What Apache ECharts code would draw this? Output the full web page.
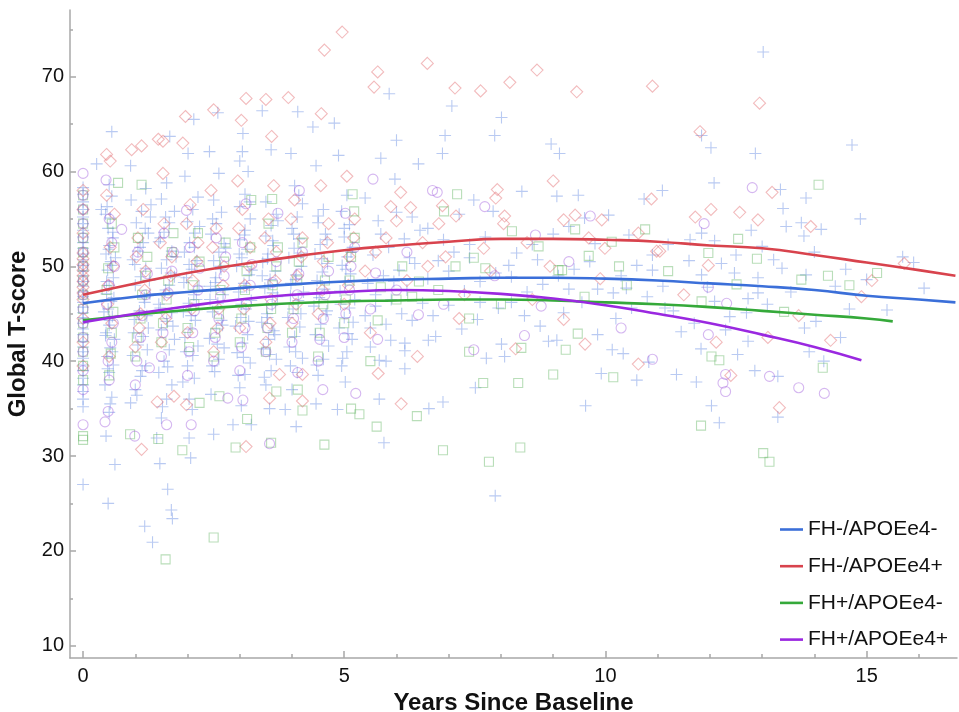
<!DOCTYPE html>
<html>
<head>
<meta charset="utf-8">
<script src="https://cdn.jsdelivr.net/npm/echarts@6/dist/echarts.min.js"></script>
<style>html,body{margin:0;padding:0;background:#fff}#c{width:959px;height:712px}</style>
</head>
<body>
<div id="c"></div>
<script>
// ---------- DATA ----------
const seriesNames = ['FH-/APOEe4-', 'FH-/APOEe4+', 'FH+/APOEe4-', 'FH+/APOEe4+'];
const xMajorTicks = [0, 5, 10, 15];
const xMinorTicks = [0,1,2,3,4,5,6,7,8,9,10,11,12,13,14,15,16];
const yMajorTicks = [10, 20, 30, 40, 50, 60, 70];
const yMinorTicks = [10,15,20,25,30,35,40,45,50,55,60,65,70,75];

// fitted trend curves
const curveBlue = [[0,46.1],[1,46.8],[2,47.3],[3,47.7],[4,48.1],[5,48.4],[6,48.6],[7,48.7],[8,48.8],[9,48.8],[10,48.7],[11,48.5],[12,48.2],[13,47.9],[14,47.5],[15,46.9],[16,46.5],[16.7,46.2]];
const curveRed = [[0,47.0],[1,48.2],[2,49.3],[3,50.2],[4,51.0],[5,51.7],[6,52.2],[7,52.6],[8,52.9],[9,52.9],[10,52.8],[11,52.6],[12,52.2],[13,51.9],[14,51.2],[15,50.4],[16,49.6],[16.7,49.0]];
const curveGreen = [[0,44.3],[1,44.9],[2,45.4],[3,45.8],[4,46.1],[5,46.3],[6,46.4],[7,46.5],[8,46.5],[9,46.4],[10,46.2],[11,46.0],[12,45.7],[13,45.3],[14,44.9],[15,44.5],[15.5,44.2]];
const curvePurple = [[0,44.1],[1,45.0],[2,45.8],[3,46.5],[4,47.0],[5,47.3],[6,47.5],[7,47.4],[8,47.1],[9,46.6],[10,45.9],[11,45.0],[12,44.0],[13,42.8],[14,41.5],[14.9,40.1]];

// individual observations
const ptsBlue = [
[0,35.2],[0,36],[0,36.8],[0,37.5],[0,38.2],[0,39],[0,39.6],[0,40.3],[0,41],[0,41.5],[0,42.1],[0,42.8],[0,43.4],[0,44],[0,44.6],[0,45.1],[0,45.7],[0,46.2],[0,46.8],[0,47.3],[0,47.9],[0,48.4],[0,49],[0,49.5],[0,50.1],[0,50.7],[0,51.3],[0,51.9],[0,52.5],[0,53.1],[0,53.8],[0,54.5],[0,55.2],[0,56],[0,56.8],[0,57.6],[0,58.3],[0,27.0],
[0.61,29.1],[0.48,25.0],[0.44,32.1],[0.5,34.6],[0.55,36.2],[0.42,37.5],[0.5,38.8],[0.58,39.6],[0.46,40.5],[0.52,41.4],[0.6,42.3],[0.44,43],[0.5,43.8],[0.56,44.7],[0.48,45.5],[0.54,46.3],[0.45,47.1],[0.5,48],[0.58,48.8],[0.47,49.6],[0.53,50.5],[0.44,51.3],[0.5,52.2],[0.57,53],[0.48,54],[0.52,55.1],[0.46,56.3],[0.55,57.4],[0.5,58.6],[0.26,60.8],[0.55,64.2],[0.35,56],[0.62,50.9],[0.4,45.2],
[0.52,35.5],[0.47,39.2],[0.56,41],[0.43,42.7],[0.51,44.3],[0.59,46.7],[0.45,48.4],[0.54,50.1],[0.49,51.8],[0.57,53.6],[0.43,55.5],
[0.91,35.6],[1.0,37],[1.1,38.4],[1.2,39.5],[0.95,40.6],[1.05,41.7],[1.15,42.6],[1.25,43.5],[0.98,44.4],[1.08,45.3],[1.18,46.2],[1.28,47.1],[1.0,48],[1.1,48.9],[1.2,49.8],[0.95,50.7],[1.05,51.6],[1.15,52.5],[1.25,53.5],[1.02,54.6],[1.12,55.8],[0.92,57],[1.2,58.2],[0.91,60.6],[1.18,22.6],[1.33,20.9],[1.3,56.5],[1.22,44.8],
[1.03,36.4],[1.13,39],[1.23,41.2],[0.97,43],[1.07,44.9],[1.17,46.7],[1.27,48.5],[0.99,50.2],[1.09,52],[1.19,54],[1.29,55.2],
[1.47,29.2],[1.62,26.5],[1.69,24.3],[1.71,23.4],[1.41,31.9],[1.5,34],[1.6,36],[1.7,37.5],[1.45,38.8],[1.55,40],[1.65,41.2],[1.75,42.3],[1.5,43.3],[1.6,44.2],[1.7,45.1],[1.45,46],[1.55,47],[1.65,48],[1.75,48.9],[1.5,49.8],[1.6,50.7],[1.7,51.6],[1.45,52.6],[1.55,53.6],[1.65,54.6],[1.75,55.8],[1.5,57.1],[1.66,63.7],[1.6,58.8],
[1.52,35.2],[1.62,39.4],[1.72,43.7],[1.48,45.6],[1.58,47.5],[1.68,49.3],[1.78,51],[1.48,53],[1.58,55.2],
[2.06,29.8],[2.03,31.9],[2.09,34.9],[1.91,37.8],[2.0,39.5],[2.1,40.6],[2.2,41.6],[1.95,42.5],[2.05,43.4],[2.15,44.3],[1.92,45.2],[2.02,46.1],[2.12,47],[2.22,47.9],[1.98,48.8],[2.08,49.7],[2.18,50.6],[1.94,51.5],[2.04,52.5],[2.14,53.5],[2.0,54.7],[2.1,56],[2.2,57.3],[2.01,61.9],[2.12,65.5],[1.95,59.5],
[2.03,36],[2.13,38.2],[1.97,41],[2.07,44.8],[2.17,46.5],[1.93,48.3],[2.03,50.2],[2.13,52],[2.23,54.2],
[2.5,32.3],[2.52,38.9],[2.45,36.5],[2.6,40.2],[2.7,41.4],[2.42,42.4],[2.55,43.4],[2.65,44.3],[2.48,45.2],[2.58,46.1],[2.68,47],[2.44,47.9],[2.54,48.8],[2.64,49.7],[2.5,50.6],[2.6,51.5],[2.7,52.4],[2.45,53.4],[2.55,54.5],[2.65,55.7],[2.5,57],[2.42,62.1],[2.58,66.2],[2.6,59.8],[2.87,33.3],
[2.47,39.5],[2.57,41.8],[2.67,43.8],[2.43,46.5],[2.53,48.3],[2.63,50],[2.73,51.9],[2.48,55],
[3.22,33.3],[3.03,35.3],[3.0,37.2],[3.1,38.6],[3.2,39.8],[2.95,40.9],[3.05,41.9],[3.15,42.8],[2.92,43.7],[3.02,44.6],[3.12,45.5],[3.22,46.4],[2.98,47.3],[3.08,48.2],[3.18,49.1],[2.94,50],[3.04,50.9],[3.14,51.8],[3.0,52.8],[3.1,53.8],[3.2,55],[3.0,56.3],[3.1,57.6],[3.05,62.1],[3.06,64.0],[3.0,61.1],[3.16,60.0],
[2.97,38.5],[3.07,40.4],[3.17,44.2],[3.03,46],[3.13,47.8],[3.23,49.6],[2.99,51.3],[3.09,53.3],[3.19,56.8],
[3.57,35.0],[3.5,37.5],[3.6,39.0],[3.7,40.2],[3.45,41.3],[3.55,42.3],[3.65,43.2],[3.42,44.1],[3.52,45.0],[3.62,45.9],[3.72,46.8],[3.48,47.7],[3.58,48.6],[3.68,49.5],[3.44,50.4],[3.54,51.3],[3.64,52.2],[3.5,53.2],[3.6,54.3],[3.7,55.5],[3.5,56.8],[3.6,62.3],[3.43,66.4],[3.87,34.9],
[3.47,38.3],[3.57,40.7],[3.67,42.8],[3.53,44.6],[3.63,47.2],[3.43,49],[3.53,50.8],[3.63,52.7],[3.73,54.8],
[4.08,33.1],[4.0,37],[4.1,38.8],[4.2,40.3],[3.95,41.5],[4.05,42.6],[4.15,43.6],[3.92,44.6],[4.02,45.5],[4.12,46.4],[4.22,47.3],[3.98,48.2],[4.08,49.1],[4.18,50],[3.94,50.9],[4.04,51.9],[4.14,52.9],[4.0,54],[4.1,55.2],[4.2,56.6],[3.98,61.9],[4.11,66.3],[4.05,58.5],
[3.97,39.5],[4.07,41],[4.17,45],[3.97,46.9],[4.07,48.6],[4.17,51.4],[4.03,53.4],[4.13,57.5],
[4.46,35.5],[4.5,38.5],[4.6,40.2],[4.7,41.6],[4.45,42.8],[4.55,43.9],[4.65,44.9],[4.42,45.8],[4.52,46.7],[4.62,47.6],[4.48,48.5],[4.58,49.4],[4.68,50.3],[4.44,51.3],[4.54,52.3],[4.64,53.4],[4.5,54.6],[4.6,56],[4.46,60.6],[4.4,64.7],
[4.47,39.6],[4.57,42.2],[4.67,45.3],[4.47,47.1],[4.57,50.8],[4.67,52.8],[4.5,55.3],
[4.87,34.9],[5.02,37.8],[4.95,39.5],[5.05,41],[5.15,42.3],[4.9,43.5],[5.0,44.6],[5.1,45.6],[5.2,46.5],[4.92,47.4],[5.02,48.3],[5.12,49.2],[4.96,50.1],[5.06,51],[5.16,52],[5.0,53.1],[5.1,54.4],[4.95,55.8],[5.05,57.5],[4.89,61.7],[4.81,65.1],
[4.97,40.3],[5.07,42.9],[5.17,44.1],[4.93,46],[5.03,49.7],[5.13,51.5],[5.0,54],
[5.67,36.0],[5.76,31.4],[5.67,40.1],[5.8,40.0],[5.89,42.2],[6.16,41.1],[6.16,41.9],[6.16,39.2],[6.62,35.0],[6.89,35.7],[6.61,42.2],[5.5,43.5],[5.4,44.8],[5.6,45.8],[5.9,46.5],[6.2,47.5],[5.45,48.2],[5.75,49.0],[6.05,49.6],[6.35,50.3],[5.55,51.2],[5.85,52],[6.15,52.9],[6.45,53.8],[5.65,54.8],[6.0,55.7],[5.7,61.4],[5.86,68.2],[5.97,59.2],[6.0,63.3],[6.42,60.8],[5.4,57.2],[6.3,44.3],[6.5,46.1],
[5.5,41.5],[5.8,43.9],[6.1,45],[5.6,47],[5.95,48.4],[6.25,50.9],[5.7,53.4],[6.3,55.2],[6.6,48.7],[7.0,49.5],[7.4,50.9],[6.9,52.8],[7.6,46.2],
[6.88,61.9],[6.93,63.8],[7.06,66.9],[7.48,57.0],[7.51,37.2],[7.72,40.3],[7.89,25.8],[7.88,63.8],[8.01,65.7],[6.7,44.8],[7.0,45.9],[7.3,47.4],[7.6,48.4],[7.9,49.3],[6.8,50.6],[7.1,51.5],[7.4,52.3],[7.7,53.1],[6.6,54.0],[7.2,55.5],[7.85,55.8],[6.75,42.6],[7.25,43.4],[7.55,44.4],[7.95,45.6],[8.07,40.5],[8.01,41.8],
[8.4,57.9],[8.96,62.9],[9.12,61.9],[9.07,57.4],[9.48,57.5],[8.91,42.1],[9.07,42.2],[9.62,35.3],[9.92,38.7],[8.2,46.2],[8.5,47.3],[8.8,48.1],[9.1,49.0],[9.4,49.7],[9.7,50.5],[8.3,51.4],[8.6,52.3],[9.0,53.4],[9.3,54.2],[9.6,55.1],[8.45,44.8],[8.75,43.7],[9.2,45.1],[9.55,46.2],[9.85,47.6],[10.06,55.4],[8.15,50.1],[9.85,42.8],
[8.2,48.9],[8.7,50.7],[9.3,47.6],[9.8,52.4],
[10.6,38.0],[10.13,41.2],[10.34,40.8],[10.83,39.9],[10.74,57.1],[11.09,58.0],[10.2,44.5],[10.5,45.6],[10.8,46.8],[11.1,47.9],[10.3,49.0],[10.6,50.1],[10.9,51.2],[11.2,52.3],[10.45,53.3],[11.3,45.3],[11.14,45.6],[11.36,38.6],[11.45,43.1],[10.15,47.2],
[10.4,47.7],[10.9,49.6],[11.6,50.6],
[11.74,37.8],[12.03,35.3],[12.18,33.5],[12.86,39.0],[12.53,40.7],[11.83,41.3],[12.73,42.1],[11.84,63.8],[12.02,62.5],[12.87,61.9],[12.08,58.8],[12.79,53.8],[11.84,53.5],[11.62,52.8],[12.09,52.7],[12.22,50.3],[11.84,49.1],[12.47,49.3],[12.92,48.8],[12.92,47.2],[12.73,46.6],[12.09,46.3],[12.38,44.7],[12.7,45.1],[11.7,44.0],[12.3,43.3],[11.95,47.8],
[12.5,51.2],[13.0,52.1],
[13.02,72.6],[14.72,62.8],[13.35,58.1],[13.84,57.2],[13.4,56.1],[14.88,55.0],[13.46,54.2],[13.75,54.6],[14.13,53.9],[13.8,53.2],[13.22,50.7],[13.38,49.8],[13.84,49.1],[15.69,51.0],[14.67,45.5],[15.39,45.4],[14.03,44.2],[13.81,43.5],[13.3,38.4],[13.3,34.1],[14.18,40.0],[13.1,46.0],[13.55,47.3],[14.4,47.9],[15.0,48.6],[14.5,42.5],[13.9,41.0],
[14.0,51.5],[14.6,49.7],[15.9,50.4],[16.1,47.7]
];
const ptsRed = [
[0,46.5],[0,47.2],[0,47.8],[0,48.4],[0,49],[0,49.6],[0,50.2],[0,50.8],[0,51.4],[0,42],[0,44.5],[0,53.5],[0,56],[0,39.5],[0,58],
[4.96,74.7],[4.62,72.8],[3.12,67.7],[3.5,67.6],[3.93,67.8],[2.5,66.5],[1.96,65.8],[3.03,65.4],[4.56,66.1],[3.61,63.7],[1.91,63.0],[1.44,63.4],[1.53,63.2],[1.12,62.7],[0.93,62.3],[0.45,61.8],[0.52,61.1],[2.96,59.0],[1.53,59.8],
[5.64,70.5],[5.57,68.9],[6.59,71.4],[8.69,70.7],[7.12,68.8],[7.61,68.5],[8.17,69.4],[9.45,68.4],[10.9,69.0],[9.0,59.0],[7.93,58.1],[7.9,57.2],[6.08,57.8],[5.89,56.3],[6.27,56.2],[10.88,57.1],[9.42,55.4],[9.93,54.9],[9.2,54.9],[8.07,55.3],[8.05,54.5],[6.81,54.5],[6.88,56.4],[7.14,55.3],[9.99,51.9],[10.98,51.6],[8.94,50.0],[7.67,51.9],[6.94,51.0],[10.63,53.5],[9.68,53.0],[9.2,44.4],[5.65,38.7],[6.09,35.5],[9.61,41.8],[10.63,39.7],[8.28,41.3],
[12.95,67.2],[11.81,64.2],[13.19,57.8],[12.02,56.0],[11.72,55.2],[12.57,55.7],[12.92,54.9],[13.93,54.2],[11.97,50.1],[15.72,50.3],[11.04,51.6],[13.33,35.1],[14.31,42.2],[12.12,42.0],[13.11,42.5],
[1.12,30.7],[3.12,31.0],[1.98,35.4],[1.74,36.3],[1.42,35.7],[3.57,36.1],[4.2,35.8],[3.76,38.6],[4.2,38.6],
[0.5,40.5],[0.55,44],[0.48,48],[0.52,52],[0.6,55.5],[0.45,57.5],[1.0,41.5],[1.1,45],[1.2,49.5],[1.05,53],[1.15,56],[1.5,42],[1.6,47],[1.7,51],[1.55,54.5],[2.0,43],[2.1,48.5],[2.2,52.5],[2.05,56.5],[2.5,41],[2.6,45.5],[2.7,50],[2.55,54],[2.45,58],[3.0,43.5],[3.1,48],[3.2,52],[3.05,56],[3.5,42],[3.6,46.5],[3.7,51.5],[3.55,55],[3.65,58.5],[4.0,44],[4.1,49],[4.2,53],[4.05,57],[4.5,45],[4.6,50.5],[4.7,54.5],[4.55,58.5],[5.0,46],[5.1,51],[5.2,55],[5.05,59.5],[5.4,49.5],[5.8,53],[6.2,48.5],[6.6,50],[7.3,47],[7.8,49.5],[8.5,52.5],[5.5,43],[6.4,40.5],[7.2,44.5],[8.6,46.5],[9.9,48.7],[11.5,47],[12.4,38.5],[13.7,44.8],[14.9,46.8],[15.1,48.5],
[0.47,46],[0.58,50],[1.08,43.5],[1.18,47.5],[1.02,51],[1.58,44.5],[1.68,49],[1.48,52.5],[2.08,45.5],[2.18,50.5],[1.98,54.5],[2.58,43.5],[2.68,48],[2.48,52],[3.08,45.5],[3.18,50],[2.98,54],[3.58,44],[3.68,48.5],[3.48,53],[4.08,46],[4.18,51],[3.98,55],[4.58,47.5],[4.68,52.5],[5.08,48],[5.18,53],[5.6,51.5],[6.0,54.8],[6.5,52.5]
];
const ptsGreen = [
[0,31.7],[0,32.1],[0,38],[0,39.5],[0,41],[0,42.5],[0,44],[0,45.5],[0,47],[0,48.5],[0,50],[0,51.5],[0,53],[0,54.5],[0,56],[0,57.5],
[1.58,19.1],[2.5,21.4],[0.9,32.3],[1.44,31.8],[1.9,30.6],[2.92,30.9],[3.6,31.4],[4.62,31.2],[3.14,33.9],[2.23,35.6],[2.61,36.3],[3.7,36.8],[4.11,37.0],[5.13,35.0],[5.29,34.4],[4.2,34.8],
[5.62,33.1],[6.39,34.2],[6.89,30.6],[7.77,29.4],[8.37,30.9],[7.66,37.7],[8.33,37.7],[9.0,38.6],[10.15,38.3],[9.24,41.2],[7.39,41.0],[8.39,41.4],[9.47,42.9],
[7.16,57.6],[6.91,55.8],[8.21,53.7],[9.42,53.9],[10.76,53.9],[10.12,52.6],[8.72,52.1],[9.68,51.1],[10.26,50.0],[10.41,48.0],[9.1,49.6],[9.17,49.6],[7.7,49.8],[7.48,50.9],[7.13,50.0],[6.11,50.0],[6.43,48.4],[5.64,44.3],[7.39,44.5],
[14.08,58.6],[12.54,52.9],[11.97,51.4],[14.26,49.0],[13.75,48.6],[14.67,48.0],[12.51,48.1],[11.84,46.3],[13.42,45.2],[11.83,33.2],[13.02,30.3],[13.14,29.4],[14.16,39.3],[12.03,40.5],[12.18,40.1],
[0.67,58.8],[1.12,58.6],[3.22,57.0],[3.62,57.1],[5.16,57.6],[5.19,55.8],
[0.5,38.5],[0.55,43],[0.45,47.5],[0.6,52],[1.0,40.5],[1.1,44.5],[1.2,49],[1.05,53],[1.5,42],[1.6,46.5],[1.7,51.5],[2.0,43.5],[2.1,48],[2.2,53.5],[2.5,40.5],[2.6,45],[2.7,50.5],[3.0,42],[3.1,47.5],[3.2,52],[3.5,41],[3.6,45.5],[3.7,50],[3.55,54.5],[4.0,43],[4.1,48.5],[4.2,52.5],[4.5,40.5],[4.6,46],[4.7,51],[5.0,44],[5.1,48.5],[5.2,53],[5.5,40],[6.0,46.5],[6.8,47.5],[8.0,46],[9.6,46.8],[11.2,49.5],[12.9,50.8],[15.2,49.3],
[0.53,40.8],[0.58,45.2],[0.48,49.8],[0.55,54.5],[1.03,42.5],[1.13,47],[1.23,51],[1.53,44],[1.63,48.5],[1.73,53.5],[2.03,41.5],[2.13,46],[2.23,50.5],[2.53,43],[2.63,47.5],[2.73,52.5],[3.03,44.5],[3.13,49.5],[3.53,43.5],[3.63,48],[3.73,52],[4.03,45.5],[4.13,50.5],[4.53,43],[4.63,48.5],[5.03,46.5],[5.13,51],[5.7,47.8],[6.3,46.8]
];
const ptsPurple = [
[0,33.3],[0,37],[0,39],[0,41],[0,42.5],[0,44],[0,45.5],[0,47],[0,48.5],[0,50],[0,51.5],[0,53],[0,54.5],[0,56],[0,57.5],[0,59.8],
[0.42,33.6],[0.48,34.7],[0.99,32.1],[1.6,33.3],[2.07,33.3],[3.57,31.3],[5.22,36.6],[4.59,37.0],[2.77,36.1],[3.06,35.9],[4.11,38.8],[1.27,39.3],
[5.55,59.2],[6.69,58.0],[6.78,57.8],[7.69,56.3],[9.71,55.3],[8.66,53.3],[7.88,49.0],[6.42,44.9],[8.77,45.8],[8.45,42.7],[7.48,41.2],[5.64,42.3],
[12.81,58.3],[11.89,54.5],[11.97,47.8],[12.32,46.1],[12.3,38.6],[12.3,36.8],[13.14,38.4],[13.7,37.2],[14.19,36.6],[11.97,42.8],[12.25,37.7],
[0.44,59.1],[0.74,53.9],[1.98,55.9],[3.12,56.6],[3.73,55.6],[4.14,58.0],[5.02,55.6],
[0.5,38],[0.55,42],[0.45,46],[0.6,50],[0.5,55],[1.0,37.5],[1.1,42.5],[1.2,47],[1.05,51.5],[1.5,40.5],[1.6,45],[1.7,49.5],[1.55,53.5],[2.0,38.5],[2.1,43],[2.2,47.5],[2.05,52],[2.5,40],[2.6,44.5],[2.7,49],[2.55,53],[3.0,39],[3.1,43.5],[3.2,48],[3.05,52.5],[3.5,41],[3.6,46],[3.7,50.5],[4.0,42],[4.1,47],[4.2,51.5],[4.5,40],[4.6,44.5],[4.7,49.5],[5.0,42.5],[5.1,47.5],[5.2,52],[5.6,49.3],[6.2,51.5],[6.9,46],[10.3,43.5],[10.9,40.2],[9.3,50.5],
[0.48,40],[0.58,44],[0.5,48],[0.55,52.5],[1.03,40],[1.13,44.8],[1.23,49.2],[1.53,43],[1.63,47.2],[1.73,51.5],[2.03,41],[2.13,45.3],[2.23,49.8],[2.53,42.5],[2.63,46.8],[2.73,51],[3.03,41.5],[3.13,46],[3.23,50.2],[3.53,43.5],[3.63,48.3],[4.03,44.5],[4.13,49.2],[4.53,42.3],[4.63,47],[5.03,45],[5.13,50],[5.5,45.5],[6.0,47.5]
];

// ---------- CHART ----------
const FONT = "'Liberation Sans', Arial, Helvetica, sans-serif";
const lineColors = ['#3b6fd9', '#d8434d', '#35a93a', '#9a28e0'];
const ptColors = ['rgba(95,135,225,0.55)', 'rgba(226,100,105,0.55)', 'rgba(95,180,95,0.55)', 'rgba(160,90,220,0.55)'];
const symbols = ['path://M0,5L10,5M5,0L5,10', 'diamond', 'rect', 'circle'];
const symSizes = [12, 12, 9, 10];
const ptsAll = [ptsBlue, ptsRed, ptsGreen, ptsPurple];
const curvesAll = [curveBlue, curveRed, curveGreen, curvePurple];

const X_MIN = -0.25, X_MAX = 16.73, Y_MIN = 8.7, Y_MAX = 77.03;
const axisLineStyle = { color: '#a8a8a8', width: 1.5 };

const chart = echarts.init(document.getElementById('c'), null, { renderer: 'canvas' });

const series = [];
ptsAll.forEach((pts, i) => {
  series.push({
    name: 'pts' + i, type: 'scatter', data: pts,
    symbol: symbols[i], symbolSize: symSizes[i],
    itemStyle: { color: 'transparent', borderColor: ptColors[i], borderWidth: 1.1 },
    emphasis: { disabled: true }, silent: true, z: 2
  });
});
curvesAll.forEach((c, i) => {
  series.push({
    name: seriesNames[i], type: 'line', data: c, smooth: 0.5,
    symbol: 'none', showSymbol: false,
    lineStyle: { color: lineColors[i], width: 2.6 },
    itemStyle: { color: lineColors[i] },
    z: 5, silent: true
  });
});

chart.setOption({
  animation: false,
  backgroundColor: '#fff',
  grid: { left: 70, right: 2, top: 10, bottom: 54, containLabel: false, outerBoundsMode: 'none' },
  legend: {
    data: seriesNames.map(n => ({ name: n, icon: 'rect' })),
    orient: 'vertical', left: 775, top: 514,
    itemWidth: 23, itemHeight: 2.6, itemGap: 15.7,
    textStyle: { fontFamily: FONT, fontSize: 21, color: '#111' }
  },
  xAxis: [{
    type: 'value', min: X_MIN, max: X_MAX,
    name: 'Years Since Baseline', nameLocation: 'middle', nameGap: 29,
    nameTextStyle: { fontFamily: FONT, fontSize: 24, fontWeight: 'bold', color: '#111' },
    axisLine: { show: true, onZero: false, lineStyle: axisLineStyle },
    axisTick: { show: true, inside: true, length: 7, lineStyle: axisLineStyle, customValues: xMajorTicks },
    axisLabel: { fontFamily: FONT, fontSize: 20, color: '#111', margin: 8, customValues: xMajorTicks },
    splitLine: { show: false }
  }, {
    type: 'value', min: X_MIN, max: X_MAX, position: 'bottom',
    axisLine: { show: false, onZero: false },
    axisTick: { show: true, inside: true, length: 4, lineStyle: axisLineStyle, customValues: xMinorTicks },
    axisLabel: { show: false }, splitLine: { show: false }
  }],
  yAxis: [{
    type: 'value', min: Y_MIN, max: Y_MAX,
    name: 'Global T-score', nameLocation: 'middle', nameGap: 29, nameRotate: 90,
    nameTextStyle: { fontFamily: FONT, fontSize: 24, fontWeight: 'bold', color: '#111' },
    axisLine: { show: true, onZero: false, lineStyle: axisLineStyle },
    axisTick: { show: true, inside: true, length: 6, lineStyle: axisLineStyle, customValues: yMajorTicks },
    axisLabel: { fontFamily: FONT, fontSize: 20, color: '#111', margin: 6, customValues: yMajorTicks },
    splitLine: { show: false }
  }, {
    type: 'value', min: Y_MIN, max: Y_MAX, position: 'left',
    axisLine: { show: false, onZero: false },
    axisTick: { show: true, inside: true, length: 3, lineStyle: axisLineStyle, customValues: yMinorTicks },
    axisLabel: { show: false }, splitLine: { show: false }
  }],
  series: series
});
</script>
</body>
</html>
